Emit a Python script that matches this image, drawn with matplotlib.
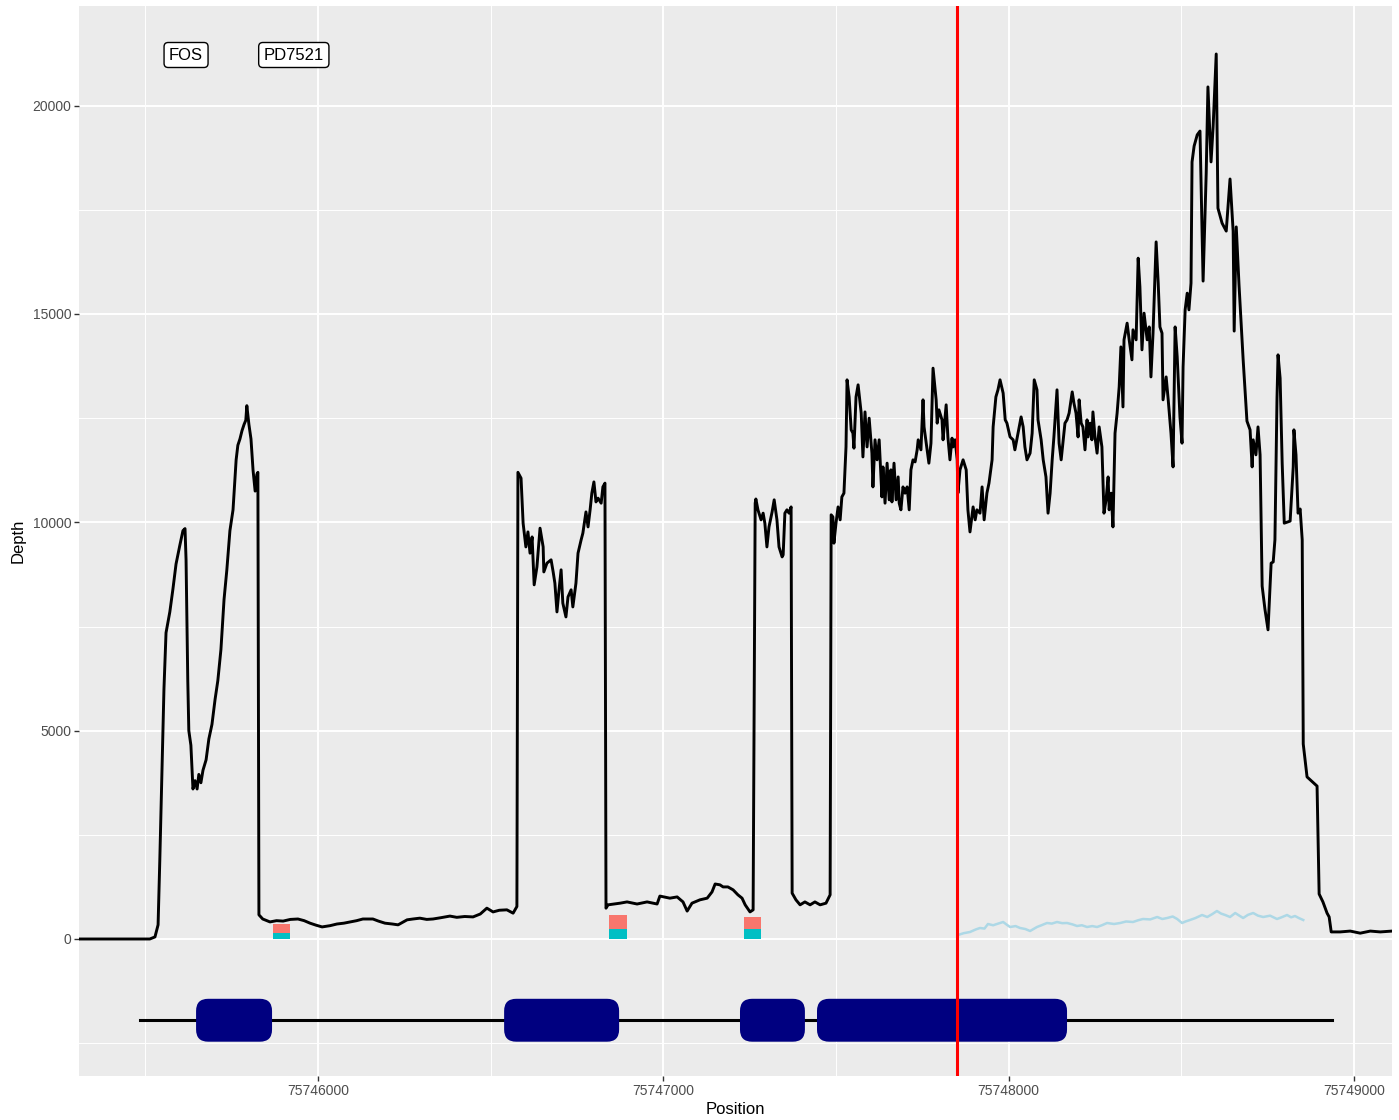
import matplotlib
matplotlib.use("Agg")
import matplotlib.pyplot as plt
from matplotlib.patches import FancyBboxPatch
from matplotlib.ticker import MultipleLocator

plt.rcParams['font.family'] = ['Liberation Sans', 'DejaVu Sans']

# read depth across the FOS locus
position = [
    75745311, 75745513, 75745528, 75745537, 75745542, 75745548, 75745554, 75745560,
    75745571, 75745580, 75745589, 75745600, 75745609, 75745615, 75745618, 75745623,
    75745626, 75745632, 75745638, 75745644, 75745650, 75745655, 75745661, 75745667,
    75745676, 75745684, 75745693, 75745702, 75745710, 75745719, 75745728, 75745736,
    75745745, 75745754, 75745763, 75745768, 75745774, 75745780, 75745786, 75745791,
    75745794, 75745800, 75745806, 75745812, 75745818, 75745823, 75745826, 75745829,
    75745840, 75745861, 75745880, 75745899, 75745920, 75745942, 75745960, 75745977,
    75745995, 75746012, 75746035, 75746055, 75746075, 75746093, 75746112, 75746130,
    75746159, 75746175, 75746194, 75746215, 75746232, 75746258, 75746275, 75746295,
    75746315, 75746333, 75746355, 75746382, 75746402, 75746425, 75746449, 75746470,
    75746489, 75746507, 75746525, 75746547, 75746565, 75746576, 75746579,
    75746588, 75746594, 75746602, 75746608, 75746614, 75746620, 75746626, 75746634,
    75746643, 75746652, 75746654, 75746663, 75746675, 75746681, 75746686, 75746692,
    75746698, 75746704, 75746709, 75746718, 75746724, 75746733, 75746738, 75746747,
    75746753, 75746762, 75746767, 75746776, 75746782, 75746788, 75746793, 75746799,
    75746805, 75746811, 75746820, 75746825, 75746831, 75746834,
    75746840, 75746875, 75746895, 75746924, 75746953, 75746982, 75746990, 75747019,
    75747040, 75747057, 75747069, 75747083, 75747106, 75747127, 75747141, 75747150,
    75747164, 75747173, 75747187, 75747202, 75747216, 75747228, 75747237, 75747251,
    75747260, 75747266,
    75747268, 75747274, 75747283, 75747289, 75747294, 75747300, 75747306, 75747315,
    75747321, 75747329, 75747335, 75747344, 75747347, 75747352, 75747358, 75747364,
    75747370, 75747373,
    75747384, 75747396, 75747410, 75747425, 75747439, 75747454, 75747471, 75747483,
    75747486, 75747491, 75747494, 75747500, 75747506, 75747512, 75747517, 75747523,
    75747529, 75747532, 75747538, 75747544, 75747549, 75747552, 75747558, 75747564,
    75747573, 75747578, 75747584, 75747590, 75747596, 75747604, 75747607, 75747613,
    75747619, 75747625, 75747633, 75747636, 75747642, 75747648, 75747654, 75747659,
    75747662, 75747668, 75747674, 75747680, 75747683, 75747688, 75747694, 75747700,
    75747706, 75747712, 75747717, 75747723, 75747729, 75747735, 75747738, 75747746,
    75747752, 75747755, 75747764, 75747769, 75747775, 75747781, 75747790, 75747793,
    75747798, 75747807, 75747810, 75747819, 75747824, 75747830, 75747836, 75747839,
    75747845, 75747851,
    75747853, 75747859, 75747868, 75747877, 75747882, 75747888, 75747897, 75747903,
    75747908, 75747917, 75747923, 75747929, 75747937, 75747943, 75747952, 75747955,
    75747963, 75747969, 75747975, 75747984, 75747990, 75747995, 75748004, 75748013,
    75748018, 75748027, 75748036, 75748042, 75748047, 75748053, 75748062, 75748068,
    75748074, 75748082, 75748085, 75748094, 75748100, 75748108, 75748114, 75748120,
    75748126, 75748131, 75748140, 75748146, 75748152, 75748157, 75748163, 75748169,
    75748175, 75748184, 75748189, 75748195, 75748201, 75748204, 75748210, 75748215,
    75748221, 75748227, 75748230, 75748236, 75748241, 75748244, 75748250, 75748256,
    75748262, 75748270, 75748276, 75748282, 75748288, 75748291, 75748297, 75748302,
    75748308,
    75748314, 75748320, 75748325, 75748331, 75748334, 75748343, 75748349, 75748357,
    75748360, 75748369, 75748375, 75748380, 75748386, 75748392, 75748401, 75748407,
    75748412, 75748418, 75748427, 75748433, 75748438, 75748444, 75748447, 75748456,
    75748462, 75748470, 75748476, 75748482, 75748488, 75748496, 75748502, 75748505,
    75748511, 75748517, 75748522, 75748528,
    75748531, 75748537, 75748546, 75748554, 75748563, 75748572, 75748577, 75748586,
    75748592, 75748601, 75748606, 75748618, 75748630, 75748641, 75748650, 75748653,
    75748659, 75748667, 75748679, 75748690, 75748699, 75748705, 75748708, 75748716,
    75748722, 75748728, 75748734, 75748742, 75748751, 75748760, 75748766, 75748771,
    75748777, 75748780, 75748786, 75748792, 75748798, 75748815, 75748824, 75748826,
    75748832, 75748838, 75748844, 75748850, 75748853, 75748858, 75748864, 75748893,
    75748899, 75748910, 75748922, 75748928, 75748934, 75748960, 75748989, 75749018,
    75749047, 75749076, 75749110,
]
depth = [
    0, 0, 50, 340, 1900, 3950, 6000, 7350,
    7850, 8400, 9000, 9450, 9800, 9850, 9100, 6200,
    5000, 4650, 3600, 3800, 3600, 3950, 3750, 4050,
    4300, 4800, 5150, 5750, 6200, 6950, 8150, 8850,
    9800, 10300, 11500, 11850, 12000, 12200, 12350, 12450,
    12800, 12350, 12000, 11250, 10750, 11150, 11200, 580,
    480, 410, 440, 430, 470, 480, 440, 380,
    330, 290, 320, 360, 380, 410, 440, 480,
    480, 430, 380, 360, 340, 460, 480, 500,
    470, 480, 510, 550, 520, 540, 530, 600,
    740, 650, 690, 700, 620, 780, 11200,
    11060, 9980, 9410, 9770, 9260, 9650, 8500, 8930,
    9860, 9410, 8810, 9020, 9100, 8810, 8540, 7850,
    8380, 8860, 8060, 7730, 8210, 8380, 7970, 8540,
    9260, 9580, 9740, 10250, 9890, 10300, 10700, 10970,
    10490, 10580, 10460, 10850, 10940, 740,
    820, 860, 890, 840, 890, 840, 1030, 980,
    1010, 890, 670, 860, 940, 980, 1130, 1320,
    1300, 1250, 1250, 1180, 1060, 980, 820, 650,
    700, 10460,
    10560, 10300, 10060, 10220, 9980, 9410, 9890, 10250,
    10540, 10060, 9410, 9170, 9220, 10220, 10300, 10220,
    10370, 1100,
    940, 820, 890, 820, 890, 820, 860, 1060,
    10180, 10130, 9500, 9980, 10370, 10060, 10610, 10700,
    11810, 13420, 13010, 12220, 12140, 11780, 13010, 13300,
    12620, 11570, 12650, 11810, 12500, 11660, 10850, 11980,
    11500, 11980, 10610, 11330, 10460, 11420, 10540, 11260,
    10490, 11420, 10540, 11090, 10460, 10300, 10850, 10700,
    10850, 10300, 11260, 11500, 11450, 11740, 11980, 11740,
    12940, 12290, 11740, 11420, 11900, 13700, 12940, 12380,
    12700, 12460, 11980, 12820, 12050, 11500, 12020, 11810,
    11980, 11500,
    10700, 11260, 11500, 11260, 10300, 9770, 10370, 10060,
    10300, 10220, 10850, 10060, 10700, 10940, 11500, 12290,
    13010, 13180, 13420, 13100, 12460, 12380, 12050, 11980,
    11740, 12140, 12530, 12290, 11810, 11500, 11660, 12140,
    13420, 13180, 12460, 11980, 11500, 11090, 10220, 10700,
    11500, 12050, 13180, 11900, 11500, 11900, 12380, 12460,
    12620, 13130, 12860, 12620, 12050, 12940, 12380, 12290,
    11740, 12460, 12050, 12380, 11980, 12650, 12050, 11660,
    12290, 11810, 10220, 10540, 11090, 10300, 10700, 9890,
    12140,
    12620, 13250, 14210, 12770, 14380, 14780, 14380, 13900,
    14620, 14380, 16340, 15650, 14140, 15020, 14380, 14690,
    13490, 14540, 16730, 15740, 14690, 14540, 12940, 13490,
    12940, 12140, 11330, 14690, 13970, 12530, 11900, 13730,
    15100, 15500, 15100, 15740,
    18650, 19030, 19300, 19390, 15790, 18380, 20450, 18650,
    19490, 21240, 17540, 17180, 16990, 18240, 16990, 14590,
    17090, 15700, 13900, 12430, 12220, 11330, 11980, 11620,
    12290, 11620, 8470, 7920, 7420, 9020, 9050, 9580,
    12980, 14020, 13460, 11420, 9980, 10030, 11330, 12220,
    11620, 10220, 10320, 9580, 4680, 4320, 3890, 3670,
    1080, 890, 620, 530, 170, 170, 190, 140,
    190, 170, 190,
]

# second, low-coverage track downstream of the breakpoint
second_position = [
    75747853, 75747870, 75747888, 75747905, 75747917, 75747930, 75747940, 75747955,
    75747966, 75747984, 75747995, 75748004, 75748020, 75748033, 75748048, 75748062,
    75748082, 75748095, 75748111, 75748125, 75748140, 75748155, 75748169, 75748185,
    75748198, 75748212, 75748227, 75748242, 75748256, 75748270, 75748285, 75748305,
    75748323, 75748340, 75748360, 75748375, 75748389, 75748410, 75748430, 75748445,
    75748459, 75748475, 75748488, 75748502, 75748512, 75748525, 75748540, 75748560,
    75748575, 75748590, 75748603, 75748615, 75748627, 75748641, 75748656, 75748668,
    75748679, 75748693, 75748708, 75748722, 75748737, 75748757, 75748777, 75748790,
    75748806, 75748818, 75748829, 75748841, 75748853,
]
second_depth = [
    96, 140, 168, 230, 264, 250, 360, 330,
    360, 408, 340, 288, 310, 264, 240, 192,
    288, 330, 384, 370, 408, 380, 384, 350,
    312, 330, 288, 310, 288, 330, 384, 360,
    384, 420, 408, 450, 480, 470, 528, 480,
    504, 540, 480, 384, 420, 456, 500, 576,
    528, 600, 672, 610, 576, 528, 624, 560,
    504, 580, 624, 560, 528, 560, 480, 520,
    576, 520, 552, 500, 456,
]

breakpoint = 75747851

# junction read counts (stacked)
junction_pos = [75745894, 75746869, 75747258]
junction_lower = [150, 240, 235]
junction_upper = [210, 335, 300]
junction_width = 50

# transcript model
gene_start, gene_end = 75745485, 75748937
exon_starts = [75745647, 75746539, 75747222, 75747445]
exon_ends = [75745867, 75746872, 75747410, 75748169]
gene_y = -1950
exon_half = 515

labels = ["FOS", "PD7521"]
label_x = [75745618, 75745930]
label_y = 21216

xmin, xmax = 75745308, 75749110
ymin, ymax = -3288, 22392

fig = plt.figure(figsize=(13.99, 11.2), dpi=100)
ax = fig.add_axes([79 / 1399, 1 - 1076 / 1120, (1392 - 79) / 1399, (1076 - 6) / 1120])
ax.set_facecolor("#EBEBEB")
for s in ax.spines.values():
    s.set_visible(False)

ax.set_xlim(xmin, xmax)
ax.set_ylim(ymin, ymax)
ax.set_xticks([75746000, 75747000, 75748000, 75749000])
ax.set_xticklabels(["75746000", "75747000", "75748000", "75749000"])
ax.set_yticks([0, 5000, 10000, 15000, 20000])
ax.xaxis.set_minor_locator(MultipleLocator(500))
ax.yaxis.set_minor_locator(MultipleLocator(2500))
ax.grid(which="major", color="white", lw=1.4)
ax.grid(which="minor", color="white", lw=0.7)
ax.set_axisbelow(True)
ax.tick_params(which="major", length=3.5, width=1.0, color="#333333",
               labelcolor="#4D4D4D", labelsize=10, pad=2)
ax.tick_params(which="minor", length=0)

ax.set_xlabel("Position", fontsize=12, labelpad=3)
ax.set_ylabel("Depth", fontsize=12, labelpad=5)

# stacked junction bars
ax.bar(junction_pos, junction_lower, width=junction_width, color="#00BFC4", zorder=2)
ax.bar(junction_pos, junction_upper, width=junction_width, bottom=junction_lower,
       color="#F8766D", zorder=2)

ax.plot(position, depth, color="black", lw=2.1, zorder=3)
ax.plot(second_position, second_depth, color="lightblue", lw=1.8, zorder=3)

# gene model with rounded exons
ax_w = ax.get_position().width * fig.get_figwidth() * fig.dpi
ax_h = ax.get_position().height * fig.get_figheight() * fig.dpi
aspect = ((ymax - ymin) / ax_h) / ((xmax - xmin) / ax_w)
ax.plot([gene_start, gene_end], [gene_y, gene_y], color="black", lw=2.2, zorder=3)
for s0, e0 in zip(exon_starts, exon_ends):
    box = FancyBboxPatch((s0, gene_y - exon_half), e0 - s0, 2 * exon_half,
                         boxstyle="round,pad=0,rounding_size=35",
                         mutation_aspect=aspect, fc="#000080", ec="none", zorder=4)
    ax.add_patch(box)

ax.axvline(breakpoint, color="red", lw=2.2, zorder=5)

for t, x in zip(labels, label_x):
    ax.text(x, label_y, t, fontsize=12, ha="center", va="center", zorder=6,
            bbox=dict(boxstyle="round,pad=0.3,rounding_size=0.25", fc="white",
                      ec="black", lw=1.0))

fig.savefig("out.png", dpi=100)
